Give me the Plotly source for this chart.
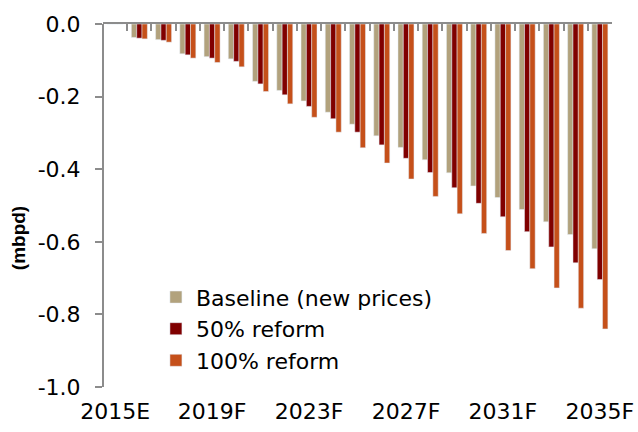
import plotly.graph_objects as go

years = ['2015E', '2016F', '2017F', '2018F', '2019F', '2020F', '2021F', '2022F', '2023F', '2024F',
         '2025F', '2026F', '2027F', '2028F', '2029F', '2030F', '2031F', '2032F', '2033F', '2034F', '2035F']

baseline = [0, -0.037, -0.043, -0.082, -0.090, -0.096, -0.158, -0.183, -0.212, -0.243,
            -0.276, -0.308, -0.340, -0.374, -0.410, -0.446, -0.478, -0.511, -0.545, -0.580, -0.619]
reform_50 = [0, -0.039, -0.045, -0.085, -0.094, -0.103, -0.165, -0.195, -0.227, -0.261,
             -0.298, -0.333, -0.370, -0.409, -0.451, -0.494, -0.531, -0.572, -0.614, -0.658, -0.704]
reform_100 = [0, -0.041, -0.050, -0.094, -0.106, -0.118, -0.186, -0.220, -0.257, -0.298,
              -0.341, -0.383, -0.427, -0.475, -0.523, -0.577, -0.624, -0.674, -0.727, -0.783, -0.840]

shown_years = ['2015E', '2019F', '2023F', '2027F', '2031F', '2035F']
y_ticks = [0, -0.2, -0.4, -0.6, -0.8, -1.0]
y_labels = ['0.0', '-0.2', '-0.4', '-0.6', '-0.8', '-1.0']

font = dict(family='DejaVu Sans, sans-serif', size=22, color='black')
axis_grey = '#8c8c8c'

fig = go.Figure()
fig.add_trace(go.Bar(x=years, y=baseline, name='Baseline (new prices)', marker_color='#B2A27D'))
fig.add_trace(go.Bar(x=years, y=reform_50, name='50% reform', marker_color='#800000'))
fig.add_trace(go.Bar(x=years, y=reform_100, name='100% reform', marker_color='#C5501A'))

# boundaries between years, used for the little ticks hanging from the zero line
bounds = [i - 0.5 for i in range(len(years) + 1)]

# empty trace so that the top axis gets drawn
fig.add_trace(go.Scatter(x=[0], y=[0], xaxis='x2', mode='markers', marker=dict(opacity=0),
                         showlegend=False, hoverinfo='skip'))

fig.update_layout(
    width=638, height=432,
    margin=dict(l=103, r=26, t=24, b=45),
    plot_bgcolor='white', paper_bgcolor='white',
    font=font,
    barmode='group', bargap=0.34, bargroupgap=0,
    showlegend=True,
    legend=dict(x=0.104, y=0.305, xanchor='left', yanchor='top',
                bgcolor='rgba(0,0,0,0)', font=font, tracegroupgap=0, itemwidth=30),
    xaxis=dict(type='category', tickmode='array', tickvals=shown_years, ticktext=shown_years,
               showline=False, ticks='', showgrid=False, ticklabelstandoff=9, automargin=False),
    xaxis2=dict(overlaying='x', side='top', range=[-0.5, len(years) - 0.5], tickmode='array',
                tickvals=bounds, showticklabels=False, ticks='inside', ticklen=7, tickwidth=2,
                tickcolor=axis_grey, showline=True, linecolor=axis_grey, linewidth=2,
                showgrid=False, zeroline=False, automargin=False),
    yaxis=dict(range=[-1.0, 0], tickmode='array', tickvals=y_ticks, ticktext=y_labels,
               anchor='free', position=0,
               showline=True, linecolor=axis_grey, linewidth=2, ticks='outside', ticklen=7,
               tickwidth=2, tickcolor=axis_grey, showgrid=False, zeroline=False,
               ticklabelstandoff=10, automargin=False),
)

fig.add_annotation(text='<b>(mbpd)</b>', textangle=-90, xref='paper', yref='paper',
                   x=-0.167, y=0.41, xanchor='center', yanchor='middle', showarrow=False,
                   font=dict(family='Liberation Sans, Arial, sans-serif', size=19))

# the page body has a default 8px margin, drop it so the figure fills the window
fig.write_html('out.html', config={'displayModeBar': False},
               post_script="document.body.style.margin='0';")
